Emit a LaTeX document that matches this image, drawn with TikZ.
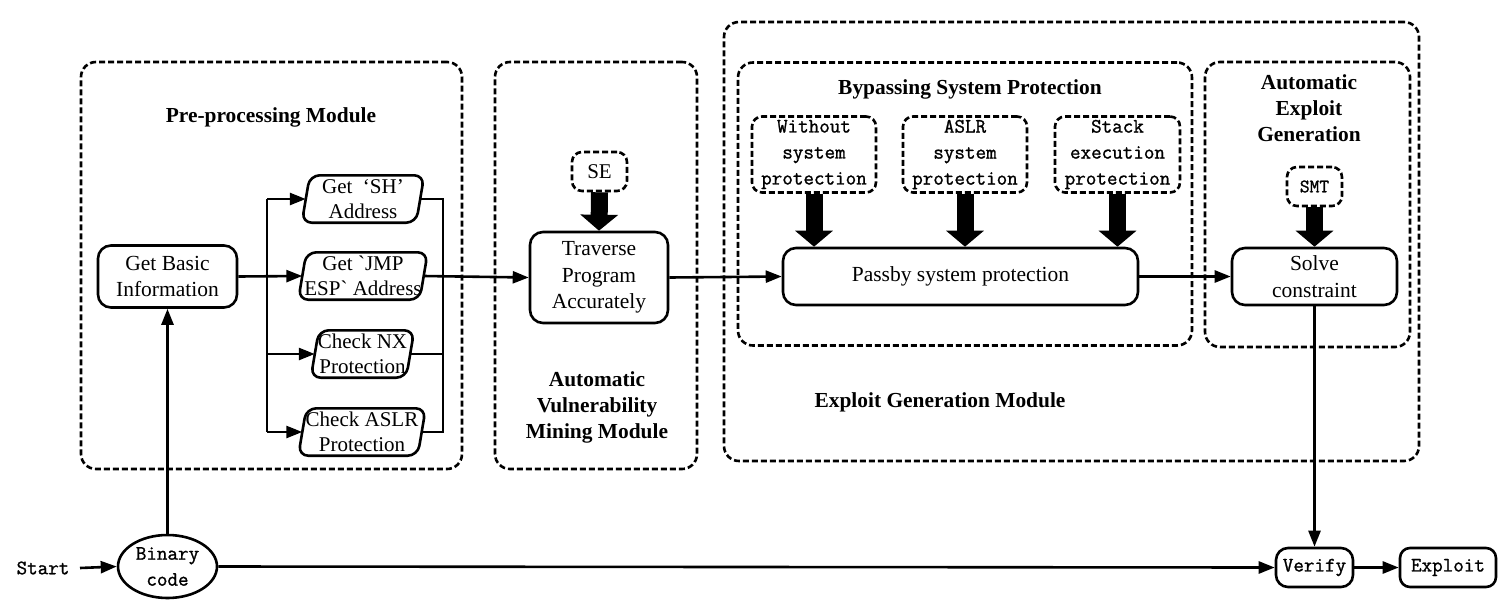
\documentclass[tikz,border=0pt]{standalone}
\usepackage{fontspec}
\setmainfont{Liberation Serif}
\setmonofont{Latin Modern Mono}[FakeBold=1.2]
\usetikzlibrary{arrows.meta,shapes.geometric}
\newcommand{\zc}[1]{\makebox[0pt]{#1}}
\begin{document}
\begin{tikzpicture}[x=1pt,y=-1pt,
  mod/.style={draw, line width=2.6pt, dash pattern=on 6pt off 3pt, rounded corners=15pt, inner sep=0pt},
  dbox/.style={draw, line width=2.6pt, dash pattern=on 6pt off 3pt, rounded corners=10pt, inner sep=0pt, align=center},
  box/.style={draw, line width=2.6pt, rounded corners=13pt, inner sep=0pt, align=center, font=\fontsize{21.5}{26.5}\selectfont},
  para/.style={inner sep=0pt, align=center, minimum height=47pt, font=\fontsize{21}{24.5}\selectfont},
  paraline/.style={draw, line width=2.6pt, rounded corners=10pt},
  ttl/.style={font=\bfseries\fontsize{21.4}{26}\selectfont, align=center, inner sep=0pt},
  mono/.style={font=\ttfamily\fontsize{20.5}{26}\selectfont, align=center},
  ln/.style={line width=2.6pt},
  arr/.style={line width=2.6pt, -{Triangle[length=16pt,width=12pt]}},
  fat/.style={line width=17pt, -{Triangle[length=16pt,width=37pt]}}
]
\useasboundingbox (0,0) rectangle (1506,608);

% module containers
\node[mod, minimum width=381pt, minimum height=407pt] (pre) at (271.5,265.5) {};
\node[mod, minimum width=202pt, minimum height=407pt] (avm) at (596,265.5) {};
\node[mod, minimum width=695pt, minimum height=439pt] (egm) at (1071.5,241.5) {};
\node[mod, minimum width=454pt, minimum height=283pt] (bsp) at (965,204) {};
\node[mod, minimum width=205pt, minimum height=285pt] (aeg) at (1307.5,204.5) {};

% titles
\node[ttl] (tpre) at (271,117) {Pre-processing Module};
\node[ttl] (tavm) at (597,407) {Automatic\\Vulnerability\\Mining Module};
\node[ttl] (tegm) at (940,402) {Exploit Generation Module};
\node[ttl] (tbsp) at (970,89) {Bypassing System Protection};
\node[ttl] (taeg) at (1309,108) {Automatic\\Exploit\\Generation};

% pre-processing nodes
\node[box, minimum width=139pt, minimum height=62pt] (gbi) at (167.5,276.5) {Get Basic\\Information};
\node[para, minimum width=114pt] (sh) at (363,199) {\zc{Get\ \ ‘SH’}\\\zc{Address}};
\node[para, minimum width=121pt] (jmp) at (363,276) {\zc{Get \textasciigrave{}JMP}\\\zc{ESP\textasciigrave{} Address}};
\node[para, minimum width=95pt] (nx) at (362.5,354) {\zc{Check NX}\\\zc{Protection}};
\node[para, minimum width=119pt] (aslr) at (362,432) {\zc{Check ASLR}\\\zc{Protection}};
\foreach \n in {sh,jmp,nx,aslr}
  \draw[paraline] ([xshift=-4pt]\n.south west) -- ([xshift=4pt]\n.north west) -- ([xshift=4pt]\n.north east) -- ([xshift=-4pt]\n.south east) -- cycle;

% vulnerability mining
\node[dbox, minimum width=55pt, minimum height=39pt, font=\fontsize{21}{24}\selectfont] (se) at (599.5,171.5) {SE};
\node[box, minimum width=138pt, minimum height=91pt] (trav) at (599,277.5) {Traverse\\Program\\Accurately};

% bypassing
\node[dbox, mono, minimum width=124pt, minimum height=76pt] (w1) at (814,154.5) {Without\\system\\protection};
\node[dbox, mono, minimum width=124pt, minimum height=76pt] (w2) at (965,154.5) {ASLR\\system\\protection};
\node[dbox, mono, minimum width=125pt, minimum height=76pt] (w3) at (1117.5,154.5) {Stack\\execution\\protection};
\node[box, minimum width=355pt, minimum height=57pt] (pass) at (960.5,276.5) {Passby system protection};

% exploit generation
\node[dbox, minimum width=55pt, minimum height=39pt, font=\ttfamily\fontsize{19}{24}\selectfont] (smt) at (1314.5,186.5) {SMT};
\node[box, minimum width=165pt, minimum height=57pt] (solve) at (1314.5,276.5) {Solve\\constraint};

% bottom row
\node[mono, inner sep=0pt] (start) at (43,568) {Start};
\node[draw, ellipse, line width=2.6pt, mono, inner sep=0pt, minimum width=99pt, minimum height=63pt] (bin) at (167.5,566.5) {Binary\\code};
\node[box, mono, rounded corners=12pt, minimum width=77pt, minimum height=39pt] (ver) at (1314.5,567.5) {Verify};
\node[box, mono, rounded corners=10pt, minimum width=96pt, minimum height=39pt] (expl) at (1448,567.5) {Exploit};

% branch / collector coordinates
\coordinate (bt) at (267,199);
\coordinate (bn) at (267,354);
\coordinate (bb) at (267,432);
\coordinate (ct) at (443,199);
\coordinate (cn) at (443,354);
\coordinate (cb) at (443,432);
\coordinate (sa) at (80,568);

% connectors
\draw[arr] (gbi.east) -- (jmp.west);
\draw[ln] (bt) -- (bb);
\draw[arr] (bt) -- (sh.west);
\draw[arr] (bn) -- (nx.west);
\draw[arr] (bb) -- (aslr.west);
\draw[ln] (sh.east) -- (ct) -- (cb) -- (aslr.east);
\draw[ln] (nx.east) -- (cn);
\draw[arr] (jmp.east) -- (trav.west);
\draw[arr] (trav.east) -- (pass.west);
\draw[arr] (pass.east) -- (solve.west);
\draw[arr] (bin.north) -- (gbi.south);
\draw[arr] (sa) -- (bin.west);
\draw[arr] (bin.east) -- (ver.west);
\draw[arr] (solve.south) -- (ver.north);
\draw[arr] (ver.east) -- (expl.west);

% thick arrows
\draw[fat] (se.south) -- (trav.north);
\draw[fat] (w1.south) -- (w1.south |- pass.north);
\draw[fat] (w2.south) -- (w2.south |- pass.north);
\draw[fat] (w3.south) -- (w3.south |- pass.north);
\draw[fat] (smt.south) -- (solve.north);
\end{tikzpicture}
\end{document}
